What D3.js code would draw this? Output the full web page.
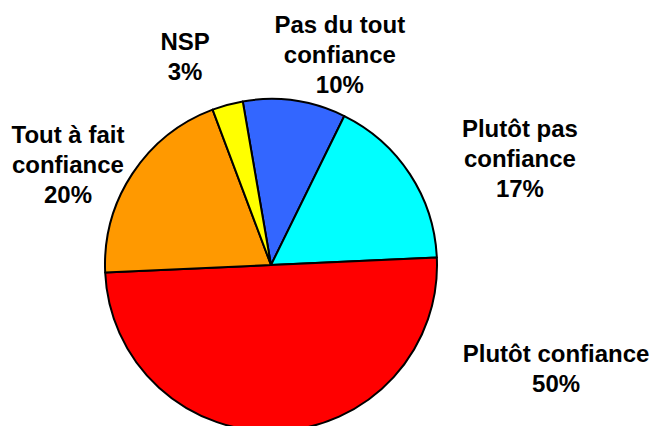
<!DOCTYPE html>
<html>
<head>
<meta charset="utf-8">
<script src="https://cdn.jsdelivr.net/npm/d3@7"></script>
<style>
  html, body { margin: 0; padding: 0; background: #fff; }
  svg { display: block; }
</style>
</head>
<body>
<svg></svg>
<script>
// answers, clockwise from the top
let categories = ['Pas du tout confiance', 'Plutôt pas confiance', 'Plutôt confiance', 'Tout à fait confiance', 'NSP']
let values = [10, 17, 50, 20, 3]
let labelLines = [
  ['Pas du tout', 'confiance', '10%'],
  ['Plutôt pas', 'confiance', '17%'],
  ['Plutôt confiance', '50%'],
  ['Tout à fait', 'confiance', '20%'],
  ['NSP', '3%']
]
let colors = ['#3366FF', '#00FFFF', '#FF0000', '#FF9900', '#FFFF00']

const width = 653
const height = 426
const cx = 271
const cy = 265
const radius = 166
const rotation = -9.8 * Math.PI / 180
// label block centres given as (angle in degrees, distance from centre)
const labelAnchors = [[18.1, 221.5], [66.8, 270.8], [110, 303.4], [296.3, 226.5], [-22.4, 225.5]]

let svg = d3.select('svg')
  .attr('width', width)
  .attr('height', height)

let g = svg.append('g').attr('transform', 'translate(' + cx + ',' + cy + ')')

let pie = d3.pie()
  .sort(null)
  .startAngle(rotation)
  .endAngle(rotation + 2 * Math.PI)
  .value(d => d)

let arc = d3.arc().innerRadius(0).outerRadius(radius)

let arcs = pie(values)

g.selectAll('path')
  .data(arcs)
  .enter()
  .append('path')
  .attr('d', arc)
  .attr('fill', (d, i) => colors[i])
  .attr('stroke', '#000')
  .attr('stroke-width', 2)
  .attr('stroke-linejoin', 'round')

const lineStep = 30
let labels = g.selectAll('text.label')
  .data(arcs)
  .enter()
  .append('text')
  .attr('class', 'label')
  .attr('text-anchor', 'middle')
  .attr('font-family', 'Liberation Sans, Arial, sans-serif')
  .attr('font-weight', 'bold')
  .attr('font-size', '24px')
  .attr('fill', '#000')
  .attr('transform', function (d, i) {
    let a = labelAnchors[i][0] * Math.PI / 180
    let r = labelAnchors[i][1]
    return 'translate(' + (Math.sin(a) * r) + ',' + (-Math.cos(a) * r) + ')'
  })

labels.each(function (d, i) {
  let lines = labelLines[i]
  let first = -((lines.length - 1) * lineStep) / 2 + 8.5
  d3.select(this).selectAll('tspan')
    .data(lines)
    .enter()
    .append('tspan')
    .attr('x', 0)
    .attr('y', (t, k) => first + k * lineStep)
    .text(t => t)
})
</script>
</body>
</html>
